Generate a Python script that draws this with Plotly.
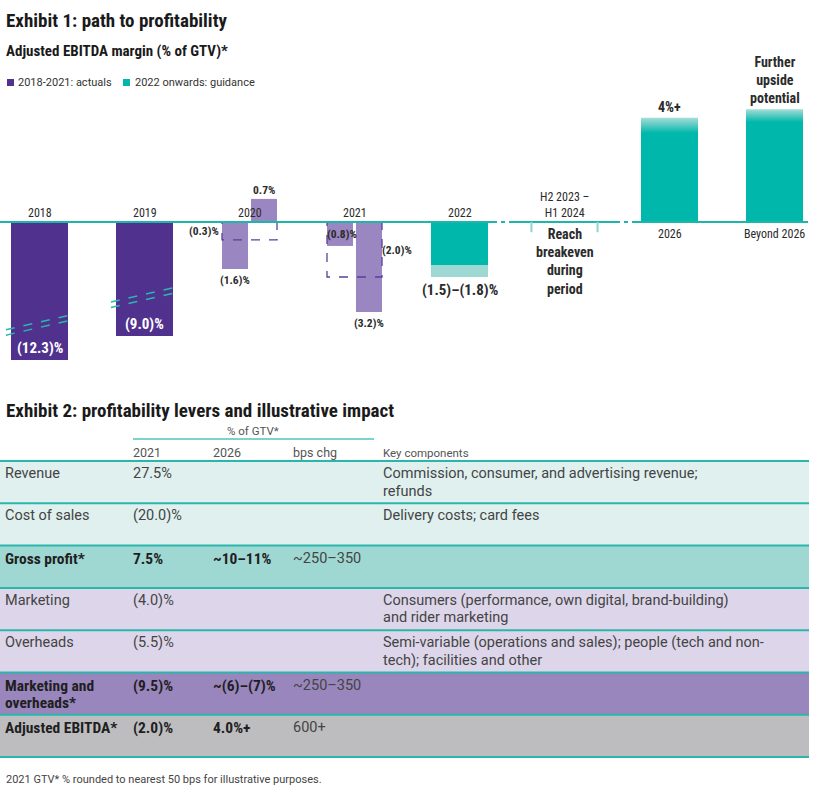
import plotly.graph_objects as go

W, H = 831, 793

# ---------------- Exhibit 1 data ----------------
periods = ["2018", "2019", "2020", "2021", "2022", "H2 2023 –<br>H1 2024", "2026", "Beyond 2026"]

actual_idx = [0, 1]
actual_drawn = [-4.84, -4.00]          # drawn length (axis broken)
actual_labels = ["(12.3)%", "(9.0)%"]

split_idx = [2, 3]
split_left = [-1.65, -0.84]            # first component per year
split_right = [0.81, -3.16]            # second component per year
split_left_labels = ["(1.6)%", "(0.8)%"]
split_right_labels = ["0.7%", "(3.2)%"]
net_values = [-0.63, -1.93]
net_labels = ["(0.3)%", "(2.0)%"]

g2022_low = -1.51
g2022_high = -1.93
g2022_label = "(1.5)–(1.8)%"

breakeven_text = "Reach<br>breakeven<br>during<br>period"

future_idx = [6, 7]
future_top = [3.66, 3.96]
future_solid = [3.12, 3.51]
future_labels = ["4%+", "Further<br>upside<br>potential"]

legend_labels = ["2018-2021: actuals", "2022 onwards: guidance"]

# ---------------- Exhibit 2 data ----------------
col_headers = ["2021", "2026", "bps chg", "Key components"]
row_labels = ["Revenue", "Cost of sales", "Gross profit*", "Marketing", "Overheads",
              "Marketing and<br>overheads*", "Adjusted EBITDA*"]
col_2021 = ["27.5%", "(20.0)%", "7.5%", "(4.0)%", "(5.5)%", "(9.5)%", "(2.0)%"]
col_2026 = ["", "", "~10–11%", "", "", "~(6)–(7)%", "4.0%+"]
col_bps = ["", "", "~250–350", "", "", "~250–350", "600+"]
key_components = [
    "Commission, consumer, and advertising revenue;<br>refunds",
    "Delivery costs; card fees",
    "",
    "Consumers (performance, own digital, brand-building)<br>and rider marketing",
    "Semi-variable (operations and sales); people (tech and non-<br>tech); facilities and other",
    "",
    "",
]
row_bold = [False, False, True, False, False, True, True]
row_kind = ["rev", "rev", "gp", "mk", "mk", "mo", "eb"]

# ---------------- styles ----------------
PURPLE = "#51318e"
LAVENDER = "#9a86c0"
TEAL = "#00b7ab"
LTEAL = "#9dd8d3"
ZERO = "#20b5aa"
TXT = "#2b2b2b"
COND = "Liberation Sans Narrow, Arial Narrow, Roboto Condensed, Roboto, sans-serif"
REG = "Roboto, Lato, sans-serif"
row_fill = {"rev": "#dff0ef", "gp": "#9fd8d3", "mk": "#ddd6ea", "mo": "#9886bc", "eb": "#bdbdbf"}

BAR_W = 0.543
SUB_W = 0.248
SUB_OFF = 0.138
BOX_HW = 0.262

def px(x):
    return x / W

def py(y):
    return 1 - y / H

fig = go.Figure()

# actual bars
fig.add_trace(go.Bar(x=actual_idx, y=actual_drawn, width=BAR_W, marker=dict(color=PURPLE, line=dict(width=0)),
                     hoverinfo="skip", xaxis="x", yaxis="y"))
# component bars 2020/2021
fig.add_trace(go.Bar(x=[i - SUB_OFF for i in split_idx] + [i + SUB_OFF for i in split_idx],
                     y=split_left + split_right, width=SUB_W,
                     marker=dict(color=LAVENDER, line=dict(width=0)), hoverinfo="skip"))
# 2022 guidance
fig.add_trace(go.Bar(x=[4], y=[g2022_low], width=BAR_W, marker=dict(color=TEAL, line=dict(width=0)), hoverinfo="skip"))
fig.add_trace(go.Bar(x=[4], y=[g2022_high - g2022_low], base=[g2022_low], width=BAR_W,
                     marker=dict(color=LTEAL, line=dict(width=0)), hoverinfo="skip"))
# 2026 / beyond solid part
fig.add_trace(go.Bar(x=future_idx, y=future_solid, width=BAR_W, marker=dict(color=TEAL, line=dict(width=0)),
                     hoverinfo="skip"))
# gradient caps
for i, s, t in zip(future_idx, future_solid, future_top):
    l, r = i - BAR_W / 2, i + BAR_W / 2
    fig.add_trace(go.Scatter(x=[l, r, r, l, l], y=[s - 0.02, s - 0.02, t, t, s - 0.02], mode="lines",
                             fill="toself", line=dict(width=0, color="rgba(0,0,0,0)"),
                             fillgradient=dict(type="vertical", start=s, stop=t,
                                               colorscale=[[0, TEAL], [1, "#a8ddd8"]]),
                             hoverinfo="skip"))
# dashed net boxes
for i, v in zip(split_idx, net_values):
    l, r = i - BOX_HW, i + BOX_HW
    fig.add_trace(go.Scatter(x=[l, r, r, l, l], y=[0, 0, v, v, 0], mode="lines",
                             line=dict(color="#5b3f9b", width=1.3, dash="dash"), hoverinfo="skip"))

shapes = []
ann = []

# zero line (segmented)
for a, b in [(0, 497), (501, 505), (509, 620), (624, 628), (632, 808)]:
    shapes.append(dict(type="line", xref="paper", yref="y", x0=px(a), x1=px(b), y0=0, y1=0,
                       line=dict(color=ZERO, width=2)))
# bracket ticks for breakeven period
for i in [5]:
    for d in (-0.315, 0.315):
        shapes.append(dict(type="line", xref="x", yref="y", x0=i + d, x1=i + d, y0=0, y1=-0.36,
                           line=dict(color="#8fd5cf", width=2)))
# axis-break marks
for i, ym in zip(actual_idx, [-3.51, -2.54]):
    for off in (0, -0.19):
        shapes.append(dict(type="line", xref="x", yref="y", x0=i - 0.32, x1=i + 0.32,
                           y0=ym + off - 0.27, y1=ym + off + 0.27,
                           line=dict(color="#2ab7ad", width=1.5, dash="dash")))

# category labels
for i, p in enumerate(periods):
    if i >= 6:
        ann.append(dict(x=i, y=0, xref="x", yref="y", text=p, showarrow=False, yanchor="top", yshift=-3,
                        font=dict(family=COND, size=12, color=TXT)))
    else:
        ann.append(dict(x=i, y=0, xref="x", yref="y", text=p, showarrow=False, yanchor="bottom", yshift=0,
                        font=dict(family=COND, size=12, color=TXT)))

# value labels
for i, v, t in zip(actual_idx, actual_drawn, actual_labels):
    ann.append(dict(x=i, y=v, xref="x", yref="y", text="<b>%s</b>" % t, showarrow=False, yanchor="bottom",
                    yshift=1, font=dict(family=COND, size=15, color="white")))
lab = dict(family=COND, size=11.5, color=TXT)
# 2020
ann.append(dict(x=2 - SUB_OFF, y=split_left[0], text="<b>%s</b>" % split_left_labels[0], showarrow=False,
                yanchor="top", yshift=-2, font=lab))
ann.append(dict(x=2 + SUB_OFF, y=split_right[0], text="<b>%s</b>" % split_right_labels[0], showarrow=False,
                yanchor="bottom", yshift=0, font=lab))
ann.append(dict(x=2 - BOX_HW, y=net_values[0] / 2, text="<b>%s</b>" % net_labels[0], showarrow=False,
                xanchor="right", xshift=-1, font=lab))
# 2021
ann.append(dict(x=3 - SUB_OFF - SUB_W / 2, y=split_left[1] / 2, text="<b>%s</b>" % split_left_labels[1],
                showarrow=False, xanchor="left", xshift=-2, font=lab))
ann.append(dict(x=3 + SUB_OFF, y=split_right[1], text="<b>%s</b>" % split_right_labels[1], showarrow=False,
                yanchor="top", yshift=-2, font=lab))
ann.append(dict(x=3 + BOX_HW, y=net_values[1] / 2, text="<b>%s</b>" % net_labels[1], showarrow=False,
                xanchor="left", xshift=-2, font=lab))
# 2022
ann.append(dict(x=4, y=g2022_high, text="<b>%s</b>" % g2022_label, showarrow=False, yanchor="top", yshift=-2,
                font=dict(family=COND, size=15, color=TXT)))
# breakeven
ann.append(dict(x=5, y=0, text="<b>%s</b>" % breakeven_text, showarrow=False, yanchor="top", yshift=-2,
                font=dict(family=COND, size=14, color=TXT)))
# future
for i, v, t in zip(future_idx, future_top, future_labels):
    ann.append(dict(x=i, y=v, text="<b>%s</b>" % t, showarrow=False, yanchor="bottom", yshift=1,
                    font=dict(family=COND, size=14, color=TXT)))

# titles
ann.append(dict(x=px(4), y=py(21), xref="paper", yref="paper", text="<b>Exhibit 1: path to profitability</b>",
                showarrow=False, xanchor="left", yanchor="middle", font=dict(family=COND, size=19, color="#1a1a1a")))
ann.append(dict(x=px(4), y=py(51), xref="paper", yref="paper", text="<b>Adjusted EBITDA margin (% of GTV)*</b>",
                showarrow=False, xanchor="left", yanchor="middle", font=dict(family=COND, size=15, color="#1a1a1a")))
# legend
for (sx, col, tx, txt) in [(7, PURPLE, 16, legend_labels[0]), (123, TEAL, 133, legend_labels[1])]:
    shapes.append(dict(type="rect", xref="paper", yref="paper", x0=px(sx), x1=px(sx + 7), y0=py(79), y1=py(86),
                       fillcolor=col, line=dict(width=0)))
    ann.append(dict(x=px(tx), y=py(82.5), xref="paper", yref="paper", text=txt, showarrow=False,
                    xanchor="left", yanchor="middle", font=dict(family=REG, size=11, color="#333")))

# ---------------- Exhibit 2 table ----------------
ann.append(dict(x=px(4), y=py(410), xref="paper", yref="paper",
                text="<b>Exhibit 2: profitability levers and illustrative impact</b>",
                showarrow=False, xanchor="left", yanchor="middle", font=dict(family=COND, size=19, color="#1a1a1a")))
ann.append(dict(x=px(253), y=py(431), xref="paper", yref="paper", text="% of GTV*", showarrow=False,
                xanchor="center", yanchor="middle", font=dict(family=REG, size=11.5, color="#555")))
shapes.append(dict(type="line", xref="paper", yref="paper", x0=px(133), x1=px(374), y0=py(439), y1=py(439),
                   line=dict(color="#7dd3cc", width=2)))
col_x = [3, 131, 211, 291, 381]
for cx, h in zip(col_x[1:], col_headers):
    ann.append(dict(x=cx, y=0, xref="x2", yref="y2", text=h, showarrow=False, xanchor="left", yanchor="bottom",
                    yshift=-1, font=dict(family=REG, size=12.5 if h != "Key components" else 11.5, color="#555")))

n = len(row_labels)
for r in range(n):
    shapes.append(dict(type="rect", xref="x2", yref="y2", x0=0, x1=809, y0=r, y1=r + 1,
                       fillcolor=row_fill[row_kind[r]], line=dict(width=0), layer="below"))
for r in range(n + 1):
    shapes.append(dict(type="line", xref="x2", yref="y2", x0=0, x1=809, y0=r, y1=r,
                       line=dict(color="#2bb6ac", width=2)))

LINE_STEP = 17.5
for r in range(n):
    cells = [row_labels[r], col_2021[r], col_2026[r], col_bps[r], key_components[r]]
    for c, (cx, txt) in enumerate(zip(col_x, cells)):
        if not txt:
            continue
        bold = row_bold[r] and c in (0, 1, 2)
        if bold:
            f = dict(family=COND, size=15.5, color="#1f1f1f")
        else:
            f = dict(family=REG, size=14.5, color="#444")
        for k, line in enumerate(txt.split("<br>")):
            t = "<b>%s</b>" % line if bold else line
            ann.append(dict(x=cx, y=r, xref="x2", yref="y2", text=t, showarrow=False, xanchor="left",
                            yanchor="top", yshift=-2 - k * LINE_STEP, align="left", font=f))

ann.append(dict(x=px(4), y=py(779), xref="paper", yref="paper",
                text="2021 GTV* % rounded to nearest 50 bps for illustrative purposes.", showarrow=False,
                xanchor="left", yanchor="middle", font=dict(family=REG, size=11, color="#444")))

K = 28.5
ROW_H = 42.3
TOP_ROW = 461
fig.update_layout(
    width=W, height=H, margin=dict(l=0, r=0, t=0, b=0),
    paper_bgcolor="white", plot_bgcolor="rgba(0,0,0,0)",
    showlegend=False, barmode="overlay",
    xaxis=dict(domain=[0, 1], range=[-39.5 / 105, (W - 39.5) / 105], visible=False, fixedrange=True),
    yaxis=dict(domain=[0, 1], range=[-(H - 222) / K, 222 / K], visible=False, fixedrange=True),
    xaxis2=dict(domain=[0, 1], range=[0, W], visible=False, overlaying="x", anchor="y2"),
    yaxis2=dict(domain=[0, 1], range=[(H - TOP_ROW) / ROW_H, -TOP_ROW / ROW_H], visible=False,
                overlaying="y", anchor="x2"),
    shapes=shapes, annotations=ann,
)
fig.add_trace(go.Scatter(x=[0], y=[0], xaxis="x2", yaxis="y2", mode="markers",
                         marker=dict(opacity=0), hoverinfo="skip"))
fig.write_html("out.html", config={"displayModeBar": False},
               post_script="document.body.style.margin='0';document.body.style.overflow='hidden';")
